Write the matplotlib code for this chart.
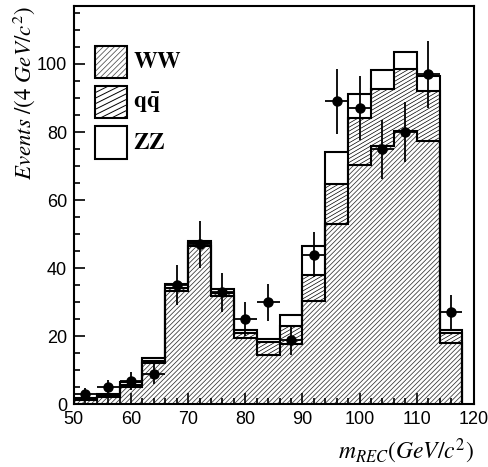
import numpy as np
import matplotlib
matplotlib.use('Agg')
import matplotlib.pyplot as plt
from matplotlib.patches import Rectangle
from matplotlib.collections import LineCollection
from matplotlib.ticker import MultipleLocator

plt.rcParams['font.family'] = ['Liberation Sans', 'DejaVu Sans']
plt.rcParams['mathtext.fontset'] = 'stix'
plt.rcParams['hatch.linewidth'] = 0.55

# bin edges in GeV/c^2 (4 GeV bins)
edges = [50, 54, 58, 62, 66, 70, 74, 78, 82, 86, 90, 94, 98, 102, 106, 110, 114, 118]

# stacked Monte Carlo: WW, WW+qq, WW+qq+ZZ
ww = [1.2, 2.1, 5.2, 12.1, 33.2, 46.5, 31.8, 19.6, 14.5, 17.7, 30.4, 52.9, 70.2, 75.8, 80.2, 77.5, 17.9]
ww_qq = [1.6, 2.5, 5.8, 12.9, 34.2, 47.3, 32.8, 20.9, 18.4, 23.1, 38.0, 64.7, 84.1, 92.6, 98.5, 92.2, 20.9]
total = [2.0, 3.0, 6.5, 13.7, 35.3, 48.1, 34.0, 22.0, 19.2, 26.3, 46.4, 74.0, 91.2, 98.1, 103.5, 96.4, 22.0]

# data
data_x = [52, 56, 60, 64, 68, 72, 76, 80, 84, 88, 92, 96, 100, 104, 108, 112, 116]
data_y = [3, 5, 7, 9, 35, 47, 33, 25, 30, 19, 44, 89, 87, 75, 80, 97, 27]
data_err = np.sqrt(data_y)


def hatch_box(xa, xb, ya, yb, slope, step):
    # segments of lines y = slope*x + c (c on a fixed grid) inside a box
    segs = []
    cmin = np.floor((ya - slope * xb) / step) * step
    for c in np.arange(cmin, yb - slope * xa + step, step):
        x0 = max(xa, (ya - c) / slope)
        x1 = min(xb, (yb - c) / slope)
        if x1 > x0:
            segs.append([(x0, slope * x0 + c), (x1, slope * x1 + c)])
    return segs


fig = plt.figure(figsize=(4.89, 4.67), dpi=100)
ax = fig.add_axes([0.151, 0.134, 0.818, 0.853])

ax.set_xlim(50, 120)
ax.set_ylim(0, 117)

# qq band between ww and ww_qq -> shallow black lines
qq_segs = []
for i in range(len(ww)):
    qq_segs += hatch_box(edges[i], edges[i + 1], ww[i], ww_qq[i], slope=0.97, step=1.15)
ax.add_collection(LineCollection(qq_segs, colors='black', linewidths=0.5))

# WW -> dense grey hatch
ax.stairs(ww, edges, baseline=0, fill=True, facecolor='white', edgecolor='0.2', lw=0, hatch='///////')

for h in (total, ww_qq, ww):
    ax.stairs(h, edges, baseline=0, fill=False, color='black', lw=1.5, zorder=3)

ax.errorbar(data_x, data_y, yerr=data_err, xerr=2, fmt='o', color='black',
            markersize=6.5, elinewidth=1.3, capsize=0, zorder=5)

ax.xaxis.set_major_locator(MultipleLocator(10))
ax.xaxis.set_minor_locator(MultipleLocator(2))
ax.yaxis.set_major_locator(MultipleLocator(20))
ax.yaxis.set_minor_locator(MultipleLocator(5))
ax.tick_params(which='both', direction='in', top=False, right=False, labelsize=13, width=1.2)
ax.tick_params(which='major', length=8, pad=5)
ax.tick_params(which='minor', length=4)
for s in ax.spines.values():
    s.set_linewidth(1.5)
    s.set_zorder(6)

ax.set_xlabel(r'$m_{REC}(GeV/c^2)$', fontsize=17, loc='right', labelpad=6)
ax.set_ylabel(r'$Events\ /(4\ GeV/c^2)$', fontsize=16.5, loc='top', labelpad=0)

# legend drawn by hand in axes fraction
bx0, bw, bh = 0.0525, 0.08, 0.081
tops = [0.8995, 0.799, 0.698]
labels = [r'$\mathbf{WW}$', r'$\mathbf{q\bar{q}}$', r'$\mathbf{ZZ}$']
for k, (top, lab) in enumerate(zip(tops, labels)):
    if k == 0:
        ax.add_patch(Rectangle((bx0, top - bh), bw, bh, transform=ax.transAxes,
                               facecolor='white', edgecolor='0.3', lw=0, hatch='//////', zorder=4))
    elif k == 1:
        segs = hatch_box(bx0, bx0 + bw, top - bh, top, slope=0.5, step=0.014)
        ax.add_collection(LineCollection(segs, colors='black', linewidths=0.7,
                                         transform=ax.transAxes, zorder=4))
    ax.add_patch(Rectangle((bx0, top - bh), bw, bh, transform=ax.transAxes,
                           fill=False, edgecolor='black', lw=1.5, zorder=5))
    ax.text(bx0 + bw + 0.015, top - bh / 2, lab, transform=ax.transAxes,
            fontsize=17, va='center', ha='left')

fig.savefig('out.png', dpi=100)
